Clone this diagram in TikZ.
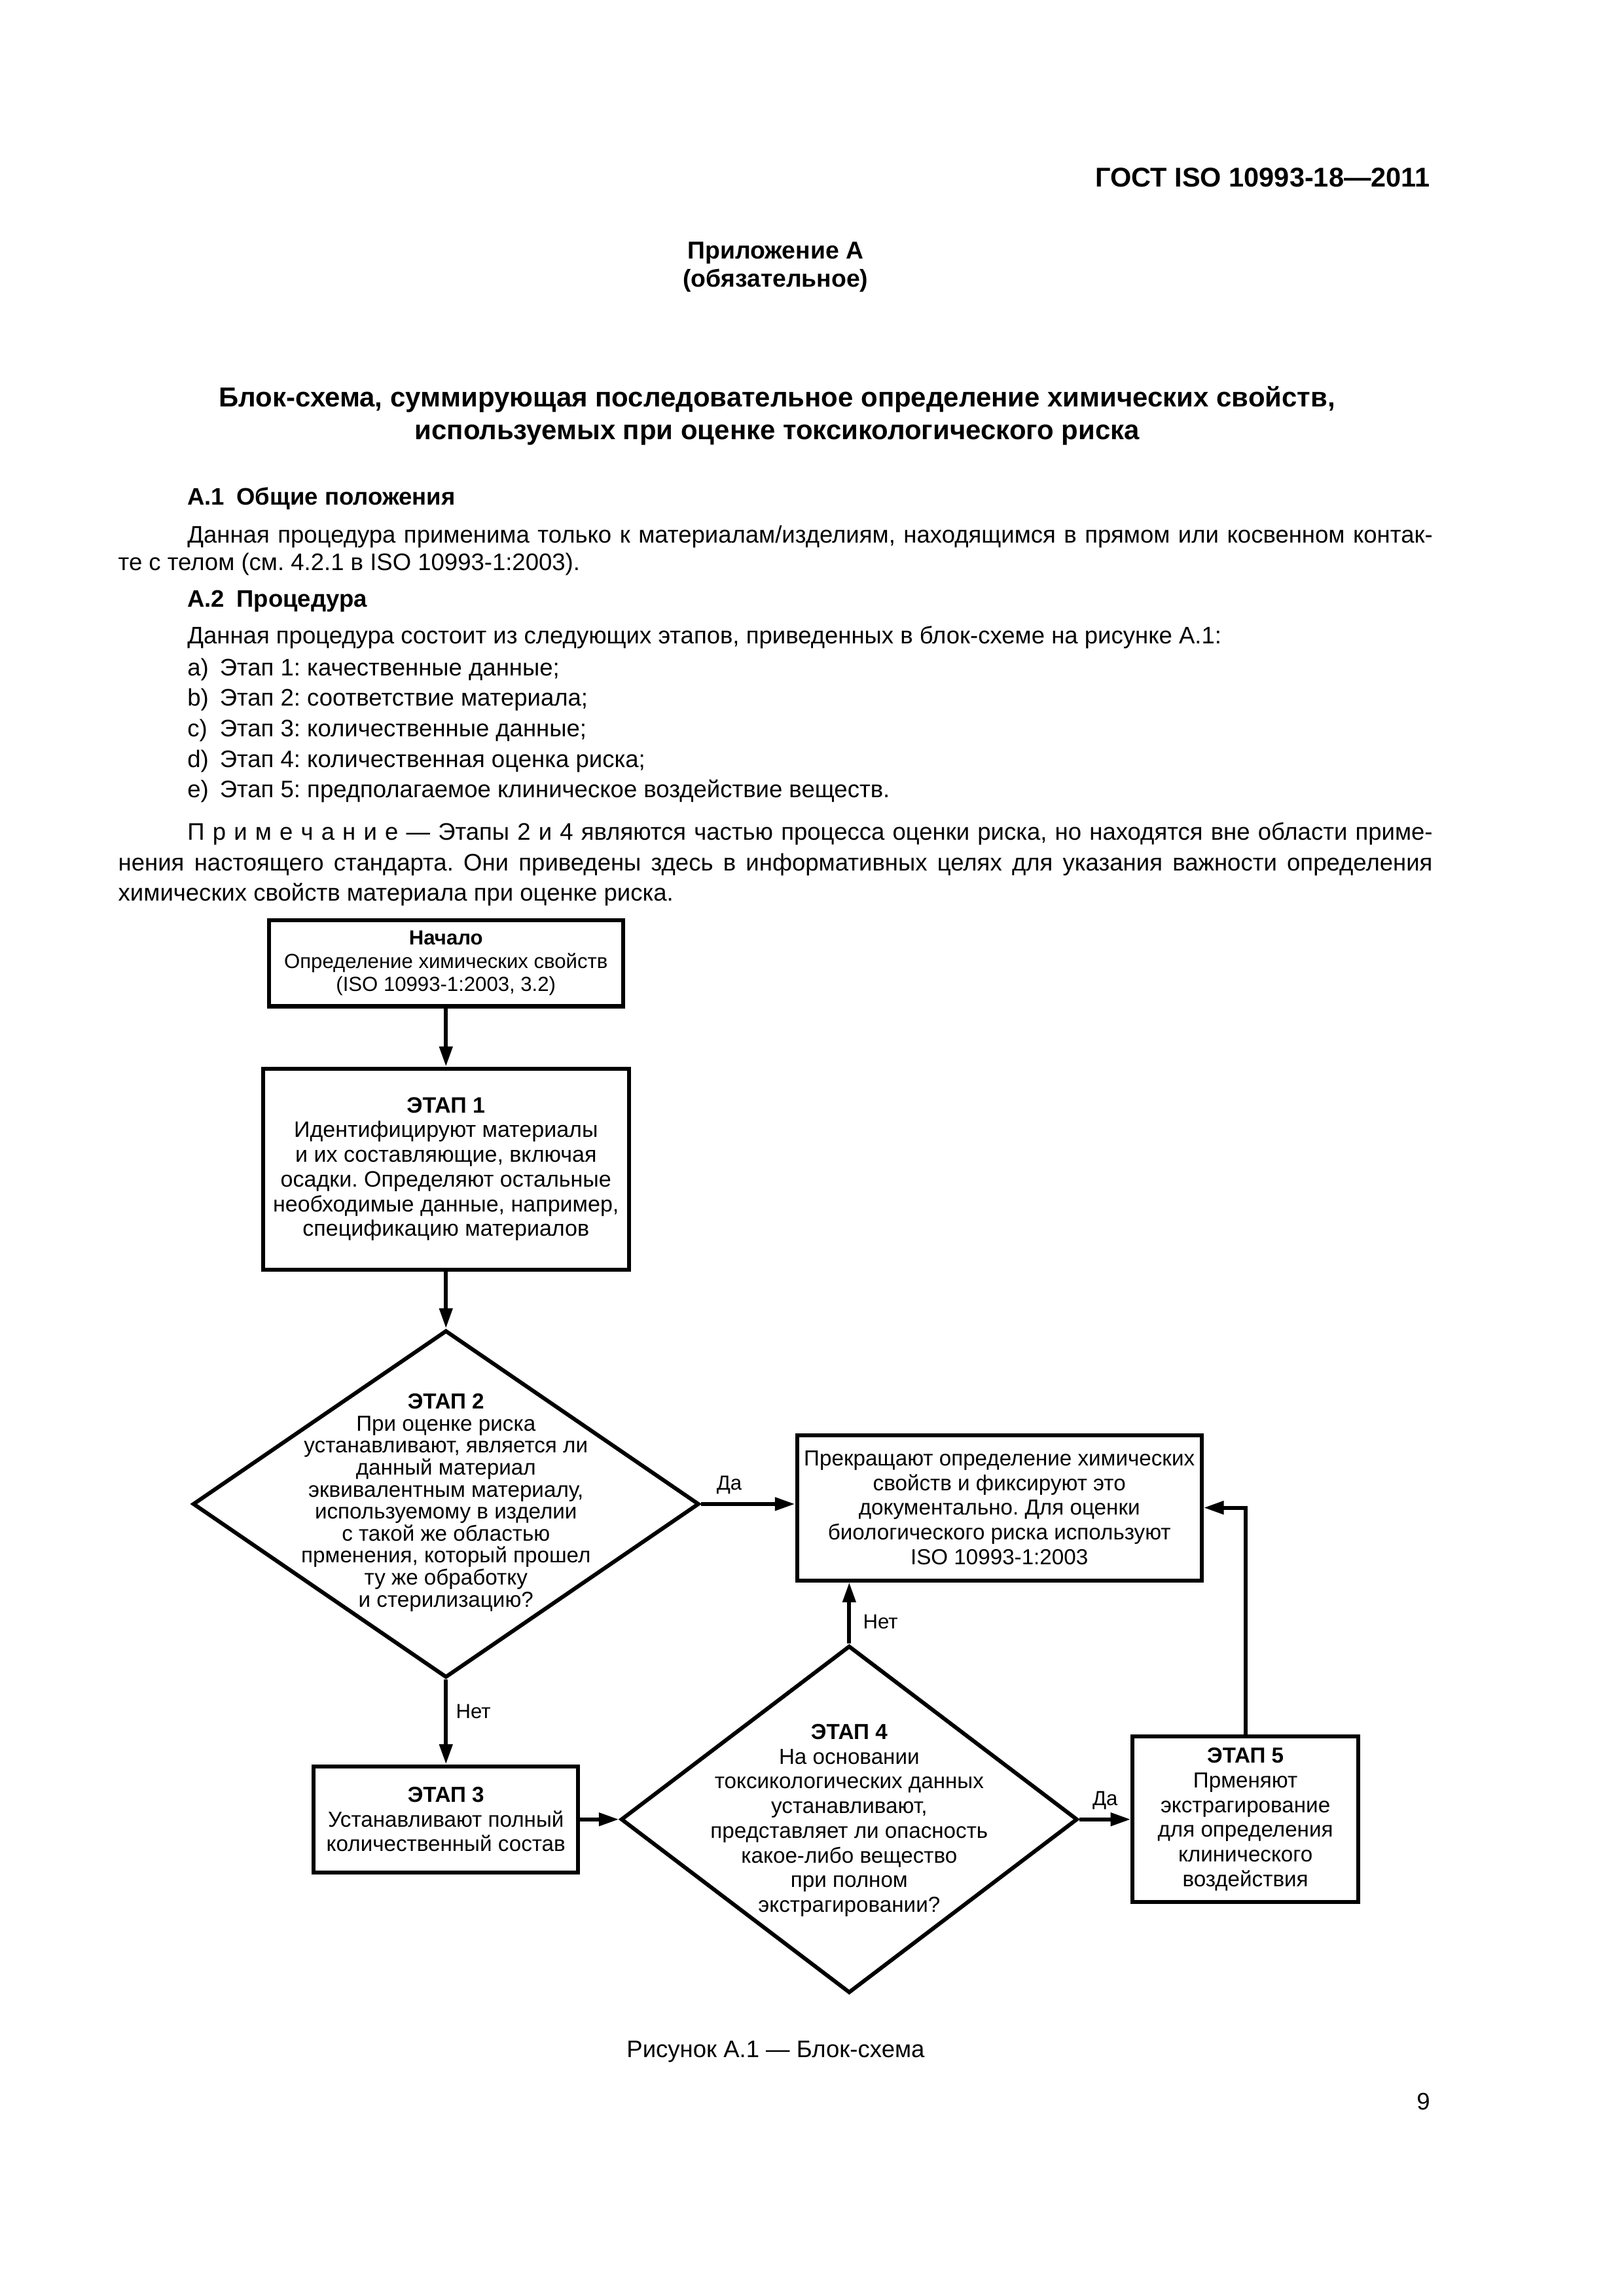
\documentclass[tikz,border=0pt]{standalone}
\usepackage{fontspec}
\setmainfont{Liberation Sans}
\usetikzlibrary{shapes.geometric,arrows.meta}

\newdimen\dpx
\dpx=0.019039cm
\newcommand{\flowfont}{\fontsize{8}{9.1}\selectfont}
\newcommand{\bodyfont}{\fontsize{8.8}{11}\selectfont}
\frenchspacing

\begin{document}
\begin{tikzpicture}[x=0.019039cm, y=-0.019039cm,
        block/.style={draw, line width=1.45pt, align=center, font=\flowfont, inner sep=0pt},
        decision/.style={draw, diamond, line width=1.45pt, inner sep=0pt},
        flowtext/.style={align=center, font=\flowfont, inner sep=0pt},
        flow/.style={line width=1.45pt, -{Triangle[length=2.6mm,width=1.65mm]}},
        answer/.style={font=\fontsize{7.5}{9}\selectfont, inner sep=2pt},
        bodyline/.style={anchor=base west, inner sep=0pt, font=\bodyfont},
        headline/.style={anchor=base, inner sep=0pt, font=\bfseries\fontsize{10.1}{12}\selectfont}]
        \useasboundingbox (0,0) rectangle (1103,1560.2);

        % Page text
        \node[headline, anchor=base east, font=\bfseries\fontsize{10}{12}\selectfont] (gost) at (972,126.8) {ГОСТ ISO 10993-18—2011};
        \node[headline, font=\bfseries\fontsize{9}{11}\selectfont] (annex) at (527,176) {Приложение А};
        \node[headline, font=\bfseries\fontsize{9}{11}\selectfont] (annextype) at (527,195) {(обязательное)};
        \node[headline] (title1) at (528,276.5) {Блок-схема, суммирующая последовательное определение химических свойств,};
        \node[headline] (title2) at (528,298.7) {используемых при оценке токсикологического риска};

        \node[bodyline, font=\bfseries\bodyfont] (sec1) at (127,343) {А.1\enspace Общие положения};
        \node[bodyline] (par1a) at (127,369) {\makebox[846\dpx][s]{Данная процедура применима только к материалам/изделиям, находящимся в прямом или косвенном контак-}};
        \node[bodyline] (par1b) at (80,387.4) {те с телом (см. 4.2.1 в ISO 10993-1:2003).};
        \node[bodyline, font=\bfseries\bodyfont] (sec2) at (127,412.7) {А.2\enspace Процедура};
        \node[bodyline] (par2) at (127,437.5) {Данная процедура состоит из следующих этапов, приведенных в блок-схеме на рисунке А.1:};
        \node[bodyline] (itema) at (127,459.3) {\makebox[22\dpx][l]{a)}Этап 1: качественные данные;};
        \node[bodyline] (itemb) at (127,479.7) {\makebox[22\dpx][l]{b)}Этап 2: соответствие материала;};
        \node[bodyline] (itemc) at (127,500.5) {\makebox[22\dpx][l]{c)}Этап 3: количественные данные;};
        \node[bodyline] (itemd) at (127,521.5) {\makebox[22\dpx][l]{d)}Этап 4: количественная оценка риска;};
        \node[bodyline] (iteme) at (127,541.9) {\makebox[22\dpx][l]{e)}Этап 5: предполагаемое клиническое воздействие веществ.};
        \node[bodyline] (notea) at (127,571) {\makebox[846\dpx][s]{П р и м е ч а н и е — Этапы 2 и 4 являются частью процесса оценки риска, но находятся вне области приме-}};
        \node[bodyline] (noteb) at (80,591.7) {\makebox[893\dpx][s]{нения настоящего стандарта. Они приведены здесь в информативных целях для указания важности определения}};
        \node[bodyline] (notec) at (80,612.4) {химических свойств материала при оценке риска.};

        % Nodes
        \node[block, font=\fontsize{7.5}{8.6}\selectfont, minimum width=240.6\dpx, minimum height=58.6\dpx] (start) at (303,654.5)
            {\textbf{Начало}\\Определение химических свойств\\(ISO 10993-1:2003, 3.2)};
        \node[block, font=\fontsize{8.2}{9.1}\selectfont, minimum width=248.4\dpx, minimum height=136.6\dpx] (st1) at (303,794.4)
            {\textbf{ЭТАП 1}\\Идентифицируют материалы\\и их составляющие, включая\\осадки. Определяют остальные\\необходимые данные, например,\\спецификацию материалов};
        \node[decision, minimum width=344\dpx, minimum height=236\dpx] (st2) at (303,1022) {};
        \node[flowtext, font=\fontsize{8}{8.1}\selectfont] (st2txt) at (303,1021)
            {\textbf{ЭТАП 2}\\При оценке риска\\устанавливают, является ли\\данный материал\\эквивалентным материалу,\\используемому в изделии\\с такой же областью\\прменения, который прошел\\ту же обработку\\и стерилизацию?};
        \node[block, minimum width=275\dpx, minimum height=98.7\dpx] (stop) at (679,1024.5)
            {Прекращают определение химических\\свойств и фиксируют это\\документально. Для оценки\\биологического риска используют\\ISO 10993-1:2003};
        \node[block, minimum width=179.7\dpx, minimum height=72.2\dpx] (st3) at (303,1236.3)
            {\textbf{ЭТАП 3}\\Устанавливают полный\\количественный состав};
        \node[decision, minimum width=310.3\dpx, minimum height=236\dpx] (st4) at (577,1236.3) {};
        \node[flowtext] (st4txt) at (577,1237)
            {\textbf{ЭТАП 4}\\На основании\\токсикологических данных\\устанавливают,\\представляет ли опасность\\какое-либо вещество\\при полном\\экстрагировании?};
        \node[block, minimum width=153.2\dpx, minimum height=112.4\dpx] (st5) at (846.2,1236.3)
            {\textbf{ЭТАП 5}\\Прменяют\\экстрагирование\\для определения\\клинического\\воздействия};

        % Edges
        \draw[flow] (start) -- (st1);
        \draw[flow] (st1) -- (st2);
        \draw[flow] (st2.east) -- (st2.east -| stop.west) node[answer, pos=0.3, above=1pt] {Да};
        \draw[flow] (st2.south) -- (st3.north) node[answer, pos=0.38, right=1pt] {Нет};
        \draw[flow] (st3.east) -- (st4.west);
        \draw[flow] (st4.north) -- (st4.north |- stop.south) node[answer, pos=0.36, right=2.4pt] {Нет};
        \draw[flow] (st4.east) -- (st5.west) node[answer, midway, above=1pt] {Да};
        \draw[flow] (st5.north) |- (stop.east);

        % Caption
        \node[bodyline, anchor=base] (caption) at (527,1398) {Рисунок А.1 — Блок-схема};
        \node[bodyline, anchor=base east] (pageno) at (972,1433.7) {9};
    \end{tikzpicture}
\end{document}
